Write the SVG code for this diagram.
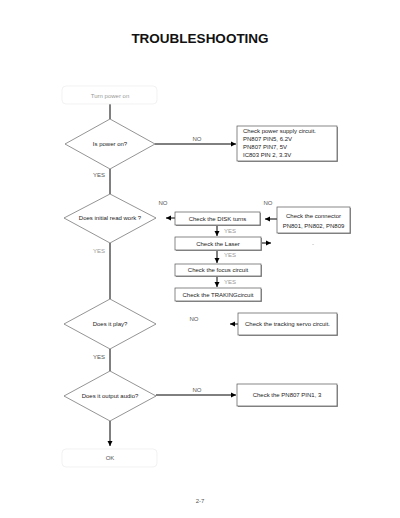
<svg xmlns="http://www.w3.org/2000/svg" width="400" height="518" viewBox="0 0 400 518">
<style>
.t{font-family:"Liberation Sans",Arial,sans-serif;font-size:6px;fill:#222}
.lbl{font-family:"Liberation Sans",Arial,sans-serif;font-size:6px;fill:#555}
.faint{font-family:"Liberation Sans",Arial,sans-serif;font-size:6px;fill:#999}
.dia{fill:#fff;stroke:#666;stroke-width:0.7}
.box{fill:#fff;stroke:#555;stroke-width:0.7}
.sh{fill:#999}
.term{fill:none;stroke:#ececec;stroke-width:0.7}
.ln{stroke:#000;stroke-width:1;fill:none}
</style>
<defs>
<marker id="ah" markerWidth="6" markerHeight="6" refX="5" refY="3" orient="auto" markerUnits="userSpaceOnUse">
<path d="M0,0.5 L5,3 L0,5.5 Z" fill="#000"/>
</marker>
</defs>
<text x="200" y="43" text-anchor="middle" font-family="Liberation Sans,Arial,sans-serif" font-size="13.5" font-weight="bold" fill="#111">TROUBLESHOOTING</text>

<g id="connectors">
<line class="ln" x1="110" y1="104" x2="110" y2="119"/>
<line class="ln" x1="155" y1="144" x2="236" y2="144" marker-end="url(#ah)"/>
<line class="ln" x1="110" y1="169" x2="110" y2="194"/>
<line class="ln" x1="175" y1="218" x2="166" y2="218" marker-end="url(#ah)"/>
<line class="ln" x1="277" y1="219" x2="265" y2="219" marker-end="url(#ah)"/>
<line class="ln" x1="217" y1="226" x2="217" y2="236" marker-end="url(#ah)"/>
<line class="ln" x1="262" y1="243" x2="271" y2="243" marker-end="url(#ah)"/>
<line class="ln" x1="217" y1="250" x2="217" y2="263" marker-end="url(#ah)"/>
<line class="ln" x1="217" y1="276" x2="217" y2="287" marker-end="url(#ah)"/>
<line class="ln" x1="110" y1="243" x2="110" y2="299"/>
<line class="ln" x1="238" y1="324" x2="230" y2="324" marker-end="url(#ah)"/>
<line class="ln" x1="110" y1="349" x2="110" y2="371"/>
<line class="ln" x1="156" y1="395" x2="236" y2="395" marker-end="url(#ah)"/>
<line class="ln" x1="110" y1="421" x2="110" y2="446" marker-end="url(#ah)"/>
<text class="lbl" x="197" y="141" text-anchor="middle">NO</text>
<text class="lbl" x="99" y="177" text-anchor="middle">YES</text>
<text class="lbl" x="163" y="205" text-anchor="middle">NO</text>
<text class="lbl" x="268" y="205" text-anchor="middle">NO</text>
<text class="faint" x="230" y="233" text-anchor="middle">YES</text>
<text class="faint" x="313" y="246" text-anchor="middle">-</text>
<text class="faint" x="230" y="257" text-anchor="middle">YES</text>
<text class="faint" x="230" y="284" text-anchor="middle">YES</text>
<text class="faint" x="99" y="253" text-anchor="middle">YES</text>
<text class="lbl" x="194" y="321" text-anchor="middle">NO</text>
<text class="lbl" x="99" y="359" text-anchor="middle">YES</text>
<text class="lbl" x="197" y="392" text-anchor="middle">NO</text>
</g>

<g id="start">
<rect class="term" x="62" y="86" width="95" height="18" rx="4"/>
<text class="faint" x="110" y="97.5" text-anchor="middle">Turn power on</text>
</g>

<g id="d1">
<polygon class="dia" points="110,119 155,144 110,169 65,144"/>
<text class="t" x="110" y="146" text-anchor="middle">Is power on?</text>
</g>

<g id="b1">
<rect class="sh" x="238" y="127" width="100" height="35"/>
<rect class="box" x="237" y="126" width="100" height="35"/>
<text class="t" x="243" y="133">Check power supply circuit.</text>
<text class="t" x="243" y="141">PN807 PIN5, 6.2V</text>
<text class="t" x="243" y="149">PN807 PIN7, 5V</text>
<text class="t" x="243" y="157">IC803 PIN 2, 3.3V</text>
</g>

<g id="d2">
<polygon class="dia" points="110,194 156,218 110,243 64,218"/>
<text class="t" x="110" y="220" text-anchor="middle">Does initial read work ?</text>
</g>

<g id="b2">
<rect class="sh" x="176" y="213" width="85" height="13"/>
<rect class="box" x="175" y="212" width="85" height="13"/>
<text class="t" x="217.5" y="220.5" text-anchor="middle">Check the DISK turns</text>
</g>

<g id="b3">
<rect class="sh" x="278" y="208" width="73" height="26"/>
<rect class="box" x="277" y="207" width="73" height="26"/>
<text class="t" x="313.5" y="218" text-anchor="middle">Check the connector</text>
<text class="t" x="313.5" y="228" text-anchor="middle">PN801, PN802, PN809</text>
</g>

<g id="b4">
<rect class="sh" x="176" y="238" width="86" height="13"/>
<rect class="box" x="175" y="237" width="86" height="13"/>
<text class="t" x="218" y="245.5" text-anchor="middle">Check the Laser</text>
</g>

<g id="b5">
<rect class="sh" x="176" y="265" width="86" height="12"/>
<rect class="box" x="175" y="264" width="86" height="12"/>
<text class="t" x="218" y="272" text-anchor="middle">Check the focus circuit</text>
</g>

<g id="b6">
<rect class="sh" x="176" y="289" width="86" height="13"/>
<rect class="box" x="175" y="288" width="86" height="13"/>
<text class="t" x="218" y="296.5" text-anchor="middle">Check the TRAKINGcircuit</text>
</g>

<g id="d3">
<polygon class="dia" points="110,299 156,324 110,349 64,324"/>
<text class="t" x="110" y="326" text-anchor="middle">Does it play?</text>
</g>

<g id="b7">
<rect class="sh" x="239" y="314" width="99" height="22"/>
<rect class="box" x="238" y="313" width="99" height="22"/>
<text class="t" x="287.5" y="326" text-anchor="middle">Check the tracking servo circuit.</text>
</g>

<g id="d4">
<polygon class="dia" points="110,371 156,396 110,421 64,396"/>
<text class="t" x="110" y="398" text-anchor="middle">Does it output audio?</text>
</g>

<g id="b8">
<rect class="sh" x="238" y="385" width="100" height="22"/>
<rect class="box" x="237" y="384" width="100" height="22"/>
<text class="t" x="287" y="397" text-anchor="middle">Check the PN807 PIN1, 3</text>
</g>

<g id="end">
<rect class="term" x="62" y="449" width="95" height="18" rx="4"/>
<text class="lbl" x="110" y="459.5" text-anchor="middle">OK</text>
</g>

<text class="lbl" x="200" y="503" text-anchor="middle">2-7</text>
</svg>
